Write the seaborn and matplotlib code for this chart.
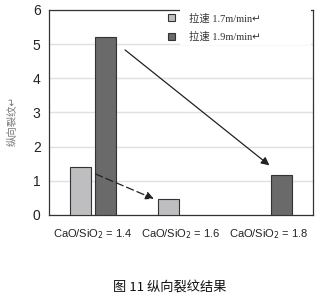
import numpy as np
import pandas as pd
import matplotlib
matplotlib.use("Agg")
import matplotlib.pyplot as plt
import matplotlib.patches as mpatches
import seaborn as sns

categories = ["CaO/SiO$_2$ = 1.4", "CaO/SiO$_2$ = 1.6", "CaO/SiO$_2$ = 1.8"]
series_names = ["拉速 1.7m/min↵", "拉速 1.9m/min↵"]
speed_17 = [1.4, 0.47, np.nan]
speed_19 = [5.2, np.nan, 1.17]
y_ticks = [0, 1, 2, 3, 4, 5, 6]
y_label = "纵向裂纹↵"
caption = "图 11 纵向裂纹结果"

sns.set_style("white")
plt.rcParams['font.family'] = ['Liberation Sans', 'Noto Sans CJK SC', 'DejaVu Sans']

df = pd.DataFrame({
    "cat": categories * 2,
    "series": [series_names[0]] * 3 + [series_names[1]] * 3,
    "value": speed_17 + speed_19,
})

fig = plt.figure(figsize=(3.2, 3.01), dpi=100)
ax = fig.add_axes([0.153, 0.286, 0.825, 0.681])
palette = {series_names[0]: "#bebec0", series_names[1]: "#6a6a6a"}
sns.barplot(data=df, x="cat", y="value", hue="series", order=categories,
            hue_order=series_names, palette=palette, width=0.57, gap=0.16,
            edgecolor="#333333", linewidth=0.8, saturation=1, ax=ax, zorder=3)

ax.set_xlim(-0.5, 2.5)
ax.set_ylim(0, 6)
ax.set_yticks(y_ticks)
ax.set_yticklabels([str(t) for t in y_ticks], fontsize=10, color="#222222")
ax.tick_params(axis='x', labelsize=8, colors="#222222", length=0, pad=9)
ax.tick_params(axis='y', length=0, pad=6)
ax.set_xlabel("")
ax.set_ylabel("")
ax.yaxis.grid(True, color="#e0e0e0", linewidth=1.0, zorder=0)
ax.set_axisbelow(True)
for s in ax.spines.values():
    s.set_color("#333333")
    s.set_linewidth(0.9)

# arrows
ax.annotate("", xy=(2.03, 1.40), xytext=(0.34, 4.88),
            arrowprops=dict(arrowstyle="-|>", color="#222222", lw=0.9,
                            mutation_scale=12), zorder=5)
ax.annotate("", xy=(0.72, 0.44), xytext=(0.0, 1.23),
            arrowprops=dict(arrowstyle="-|>", color="#222222", lw=0.9,
                            linestyle=(0, (6, 3)), mutation_scale=12), zorder=5)

# white block behind legend text (covers top spine and upper gridline)
cover = mpatches.Rectangle((0.496, 0.83), 0.497, 0.25, transform=ax.transAxes,
                           facecolor="white", edgecolor="none", clip_on=False,
                           zorder=4)
ax.add_patch(cover)

leg = ax.legend(loc="upper left", bbox_to_anchor=(0.42, 1.025), frameon=False,
                handlelength=0.7, handleheight=0.7,
                handletextpad=1.3, labelspacing=0.8, borderpad=0.3,
                prop={'family': ['Liberation Serif', 'Noto Sans CJK SC', 'DejaVu Sans'], 'size': 7.5})
leg.set_zorder(6)
for t in leg.get_texts():
    t.set_color("#333333")

fig.text(0.04, 0.6, y_label, rotation=90, ha="center", va="center",
         fontsize=7.5, color="#777777",
         family=['Noto Sans CJK SC', 'DejaVu Sans'])
fig.text(0.53, 0.045, caption, ha="center", va="center", fontsize=9.5,
         color="#111111", family=['Noto Sans CJK SC', 'DejaVu Sans'])

fig.savefig("out.png", dpi=100)
